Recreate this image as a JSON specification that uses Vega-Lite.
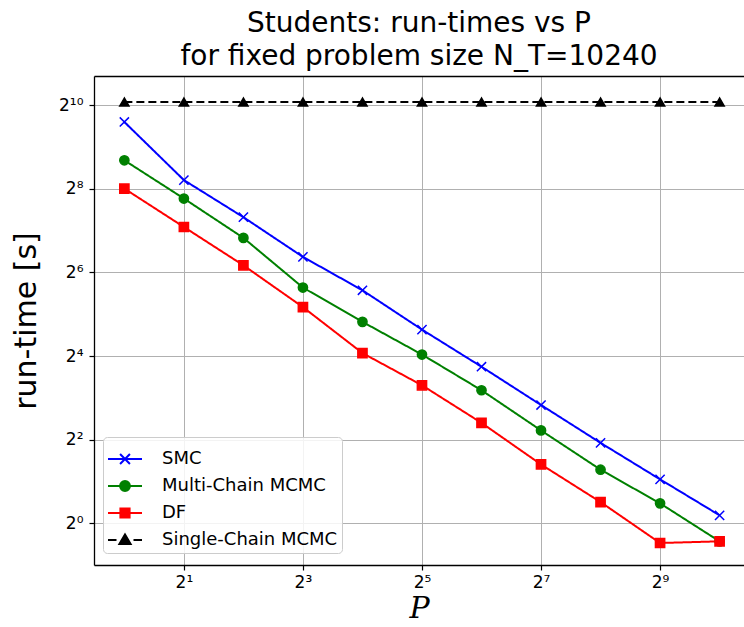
{
  "$schema": "https://vega.github.io/schema/vega-lite/v6.json",
  "width": 650,
  "height": 489,
  "autosize": {"type": "none"},
  "padding": {"left": 94, "top": 76, "right": 0, "bottom": 62},
  "background": "white",
  "title": {
    "text": ["Students: run-times vs P", "for fixed problem size N_T=10240"],
    "font": "DejaVu Sans",
    "fontSize": 28,
    "fontWeight": "normal",
    "lineHeight": 33,
    "color": "#000000",
    "anchor": "middle",
    "offset": 5
  },
  "data": {
    "values": [
      {"series": "SMC", "P": 1, "time": 776},
      {"series": "SMC", "P": 2, "time": 296},
      {"series": "SMC", "P": 4, "time": 160},
      {"series": "SMC", "P": 8, "time": 82.8},
      {"series": "SMC", "P": 16, "time": 47.6},
      {"series": "SMC", "P": 32, "time": 24.8},
      {"series": "SMC", "P": 64, "time": 13.4},
      {"series": "SMC", "P": 128, "time": 7.1},
      {"series": "SMC", "P": 256, "time": 3.79},
      {"series": "SMC", "P": 512, "time": 2.07},
      {"series": "SMC", "P": 1024, "time": 1.14},
      {"series": "Multi-Chain MCMC", "P": 1, "time": 411},
      {"series": "Multi-Chain MCMC", "P": 2, "time": 218},
      {"series": "Multi-Chain MCMC", "P": 4, "time": 113.5},
      {"series": "Multi-Chain MCMC", "P": 8, "time": 49.8},
      {"series": "Multi-Chain MCMC", "P": 16, "time": 28.2},
      {"series": "Multi-Chain MCMC", "P": 32, "time": 16.4},
      {"series": "Multi-Chain MCMC", "P": 64, "time": 9.07},
      {"series": "Multi-Chain MCMC", "P": 128, "time": 4.66},
      {"series": "Multi-Chain MCMC", "P": 256, "time": 2.43},
      {"series": "Multi-Chain MCMC", "P": 512, "time": 1.39},
      {"series": "Multi-Chain MCMC", "P": 1024, "time": 0.74},
      {"series": "DF", "P": 1, "time": 257},
      {"series": "DF", "P": 2, "time": 136},
      {"series": "DF", "P": 4, "time": 72},
      {"series": "DF", "P": 8, "time": 36},
      {"series": "DF", "P": 16, "time": 16.8},
      {"series": "DF", "P": 32, "time": 9.85},
      {"series": "DF", "P": 64, "time": 5.28},
      {"series": "DF", "P": 128, "time": 2.65},
      {"series": "DF", "P": 256, "time": 1.42},
      {"series": "DF", "P": 512, "time": 0.72},
      {"series": "DF", "P": 1024, "time": 0.74},
      {"series": "Single-Chain MCMC", "P": 1, "time": 1080},
      {"series": "Single-Chain MCMC", "P": 2, "time": 1080},
      {"series": "Single-Chain MCMC", "P": 4, "time": 1080},
      {"series": "Single-Chain MCMC", "P": 8, "time": 1080},
      {"series": "Single-Chain MCMC", "P": 16, "time": 1080},
      {"series": "Single-Chain MCMC", "P": 32, "time": 1080},
      {"series": "Single-Chain MCMC", "P": 64, "time": 1080},
      {"series": "Single-Chain MCMC", "P": 128, "time": 1080},
      {"series": "Single-Chain MCMC", "P": 256, "time": 1080},
      {"series": "Single-Chain MCMC", "P": 512, "time": 1080},
      {"series": "Single-Chain MCMC", "P": 1024, "time": 1080}
    ]
  },
  "config": {
    "view": {"stroke": null},
    "axis": {
      "labelFont": "DejaVu Sans",
      "labelFontSize": 17,
      "labelColor": "#000000",
      "tickColor": "#000000",
      "tickSize": 5,
      "tickWidth": 1.2,
      "domainColor": "#000000",
      "domainWidth": 1.3,
      "gridColor": "#b0b0b0",
      "gridWidth": 1,
      "titleColor": "#000000",
      "titleFontWeight": "normal"
    },
    "legend": {
      "orient": "none",
      "legendX": 9,
      "legendY": 361,
      "padding": 4,
      "fillColor": "rgba(255,255,255,0.85)",
      "strokeColor": "#cccccc",
      "cornerRadius": 4,
      "labelFont": "DejaVu Sans",
      "labelFontSize": 18,
      "labelColor": "#000000",
      "labelLimit": 0,
      "symbolSize": 1156,
      "symbolStrokeWidth": 2,
      "symbolOpacity": 1,
      "rowPadding": -7,
      "labelOffset": 19
    }
  },
  "layer": [
    {
      "mark": {"type": "line", "strokeWidth": 2},
      "encoding": {
        "x": {
          "field": "P", "type": "quantitative",
          "scale": {"type": "log", "base": 2, "domain": [0.7022, 1360.6], "nice": false},
          "axis": {
            "values": [2, 8, 32, 128, 512],
            "labelExpr": "datum.value == 2 ? '2¹' : datum.value == 8 ? '2³' : datum.value == 32 ? '2⁵' : datum.value == 128 ? '2⁷' : '2⁹'",
            "grid": true,
            "labelPadding": 4,
            "title": "P",
            "titleFont": "DejaVu Serif",
            "titleFontStyle": "italic",
            "titleFontSize": 30,
            "titlePadding": 3
          }
        },
        "y": {
          "field": "time", "type": "quantitative",
          "scale": {"type": "log", "base": 2, "domain": [0.5, 1663.5], "nice": false},
          "axis": {
            "values": [1, 4, 16, 64, 256, 1024],
            "labelExpr": "datum.value == 1 ? '2⁰' : datum.value == 4 ? '2²' : datum.value == 16 ? '2⁴' : datum.value == 64 ? '2⁶' : datum.value == 256 ? '2⁸' : '2¹⁰'",
            "grid": true,
            "labelPadding": 6,
            "title": "run-time [s]",
            "titleFont": "DejaVu Sans",
            "titleFontSize": 30,
            "titlePadding": 17
          }
        },
        "stroke": {
          "field": "series", "type": "nominal",
          "scale": {"domain": ["SMC", "Multi-Chain MCMC", "DF", "Single-Chain MCMC"], "range": ["#0000ff", "#008000", "#ff0000", "#000000"]},
          "legend": null
        },
        "strokeDash": {
          "field": "series", "type": "nominal",
          "scale": {"domain": ["SMC", "Multi-Chain MCMC", "DF", "Single-Chain MCMC"], "range": [[1, 0], [1, 0], [1, 0], [8, 4]]},
          "legend": null
        }
      }
    },
    {
      "mark": {"type": "point", "filled": true, "opacity": 1, "size": 85, "strokeWidth": 1.5},
      "encoding": {
        "x": {"field": "P", "type": "quantitative", "axis": null},
        "y": {"field": "time", "type": "quantitative", "axis": null},
        "shape": {
          "field": "series", "type": "nominal",
          "scale": {"domain": ["SMC", "Multi-Chain MCMC", "DF", "Single-Chain MCMC"], "range": ["M-1,-1L1,1M-1,1L1,-1", "circle", "square", "triangle-up"]},
          "legend": null
        },
        "fill": {
          "field": "series", "type": "nominal",
          "scale": {"domain": ["SMC", "Multi-Chain MCMC", "DF", "Single-Chain MCMC"], "range": ["#0000ff", "#008000", "#ff0000", "#000000"]},
          "legend": null
        },
        "stroke": {
          "field": "series", "type": "nominal",
          "scale": {"domain": ["SMC", "Multi-Chain MCMC", "DF", "Single-Chain MCMC"], "range": ["#0000ff", "#008000", "#ff0000", "#000000"]},
          "legend": null
        }
      }
    },
    {
      "transform": [{"filter": "false"}],
      "mark": {"type": "point", "filled": true, "opacity": 1, "strokeWidth": 2},
      "encoding": {
        "x": {
          "field": "P", "type": "quantitative",
          "axis": {"orient": "top", "labels": false, "ticks": false, "grid": false, "domain": true, "title": null}
        },
        "y": {"field": "time", "type": "quantitative", "axis": null},
        "shape": {
          "field": "series", "type": "nominal",
          "scale": {"domain": ["SMC", "Multi-Chain MCMC", "DF", "Single-Chain MCMC"], "range": [
            "M-1,0H1M-0.29,-0.29L0.29,0.29M-0.29,0.29L0.29,-0.29",
            "M-1,0H1M0.29,0A0.29,0.29 0 1 1 -0.29,0A0.29,0.29 0 1 1 0.29,0Z",
            "M-1,0H1M-0.27,-0.27H0.27V0.27H-0.27Z",
            "M-1,0H-0.5M0.5,0H1M0,-0.33L0.33,0.24L-0.33,0.24Z"
          ]},
          "legend": {"title": null}
        },
        "fill": {
          "field": "series", "type": "nominal",
          "scale": {"domain": ["SMC", "Multi-Chain MCMC", "DF", "Single-Chain MCMC"], "range": ["#0000ff", "#008000", "#ff0000", "#000000"]},
          "legend": {"title": null}
        },
        "stroke": {
          "field": "series", "type": "nominal",
          "scale": {"domain": ["SMC", "Multi-Chain MCMC", "DF", "Single-Chain MCMC"], "range": ["#0000ff", "#008000", "#ff0000", "#000000"]},
          "legend": {"title": null}
        }
      }
    }
  ],
  "resolve": {
    "scale": {"shape": "independent", "fill": "independent", "stroke": "independent", "strokeDash": "independent"},
    "axis": {"x": "independent", "y": "independent"}
  }
}
